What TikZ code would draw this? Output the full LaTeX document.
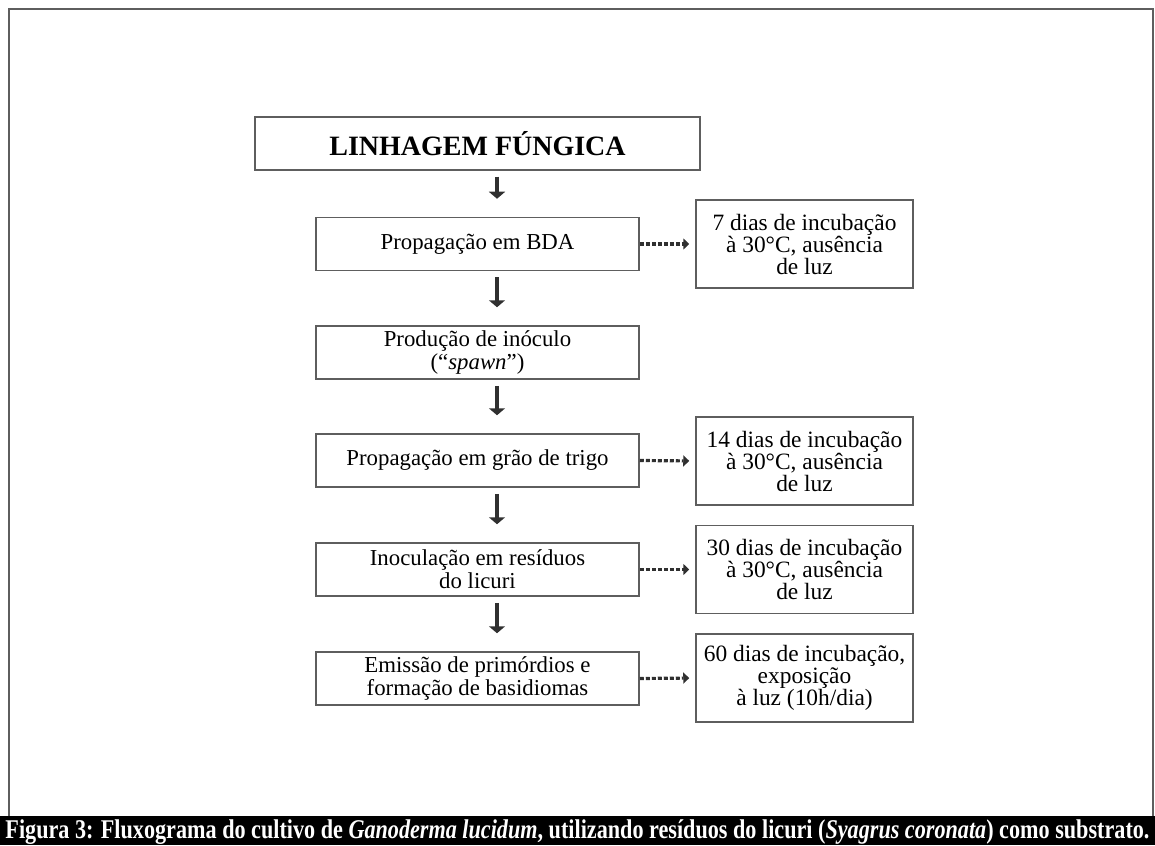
\documentclass[tikz,border=0pt]{standalone}
\usepackage{fontspec}
\setmainfont{Liberation Serif}
\usepackage{tikz}
\usetikzlibrary{positioning, arrows.meta}
\definecolor{frameClr}{HTML}{5E5E5E}
\definecolor{arrowClr}{HTML}{303030}
\newcommand\Fs{\fontsize{11.4}{11.5}\selectfont}

\tikzset{
    stage/.style = {draw = frameClr, line width = 0.75pt, minimum width = 161.5pt, minimum height = 26.5pt, inner sep = 0pt, align = center, font = \Fs},
    note/.style = {draw = frameClr, line width = 0.75pt, minimum width = 108.5pt, minimum height = 44pt, inner sep = 0pt, align = center, font = \fontsize{11.7}{11}\selectfont},
    down/.style = {draw = arrowClr, line width = 2pt, -{Triangle[width = 8pt, length = 3.5pt]}, shorten < = 3pt, shorten > = 9pt},
    side/.style = {draw = arrowClr, line width = 1.6pt, dash pattern = on 2pt off 1pt, -{Triangle[width = 5.5pt, length = 3pt]}, shorten > = 3pt}
}

\begin{document}
\begin{tikzpicture}[x = 0.5pt, y = -0.5pt]
                \useasboundingbox (0,0) rectangle (1155,845);
                \draw[frameClr, line width = 0.75pt] (9,816) -- (9,9) -- (1153,9) -- (1153,816);
                \fill[black] (0,816) rectangle (1155,845);
                \node[white, inner sep = 0pt, anchor = base] (cap) at (577.5,838) {\resizebox{572pt}{9.4pt}{\bfseries Figura 3: Fluxograma do cultivo de \textit{Ganoderma lucidum}, utilizando resíduos do licuri (\textit{Syagrus coronata}) como substrato.}};

                \node[stage, minimum width = 222.5pt, font = \fontsize{14}{15}\selectfont\bfseries] (top) at (477.5,143.5) {LINHAGEM FÚNGICA};
                \node[stage] (s1) at (477.5,244) {Propagação em BDA};
                \node[stage] (s2) at (477.5,352.5) {Produção de inóculo\\(“\textit{spawn}”)};
                \node[stage] (s3) at (477.5,460.5) {Propagação em grão de trigo};
                \node[stage, font = \fontsize{11.4}{10}\selectfont] (s4) at (477.5,569.5) {Inoculação em resíduos\\do licuri};
                \node[stage] (s5) at (477.5,678.5) {Emissão de primórdios e\\formação de basidiomas};

                \node[note] (n1) at (804.5,244) {7 dias de incubação\\à 30°C, ausência\\de luz};
                \node[note] (n3) at (804.5,461) {14 dias de incubação\\à 30°C, ausência\\de luz};
                \node[note] (n4) at (804.5,569.5) {30 dias de incubação\\à 30°C, ausência\\de luz};
                \node[note] (n5) at (804.5,678) {60 dias de incubação,\\exposição\\à luz (10h/dia)};

                \foreach \a/\b in {top/s1, s1/s2, s2/s3, s3/s4, s4/s5}{
                  \draw[down] ([xshift = 9.75pt]\a.south) -- ([xshift = 9.75pt]\b.north);
                }
                \foreach \a/\b in {s1/n1, s3/n3, s4/n4, s5/n5}{
                  \draw[side] (\a.east) -- (\b.west);
                }
            \end{tikzpicture}
\end{document}
